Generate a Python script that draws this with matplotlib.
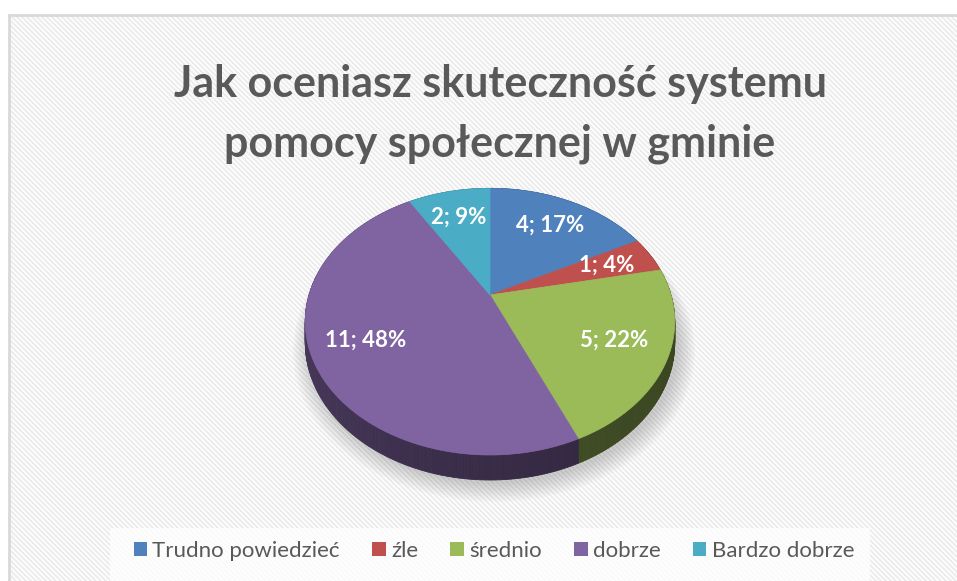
import numpy as np
import matplotlib.pyplot as plt
from matplotlib.patches import Polygon, Rectangle, Patch

# Odpowiedzi ankiety
labels = ['Trudno powiedzieć', 'źle', 'średnio', 'dobrze', 'Bardzo dobrze']
counts = [4, 1, 5, 11, 2]
colors = ['#4F81BD', '#C0504D', '#9BBB59', '#8064A2', '#4BACC6']
title = 'Jak oceniasz skuteczność systemu\npomocy społecznej w gminie'

plt.rcParams['font.family'] = ['Lato', 'DejaVu Sans']

fig = plt.figure(figsize=(9.57, 5.81), dpi=100)
ax = fig.add_axes([0, 0, 1, 1])
ax.set_xlim(0, 957)
ax.set_ylim(581, 0)
ax.axis('off')

# tło w ukośne paski + ramka
for c in np.arange(-600, 960, 5):
    ax.plot([c, c + 600], [0, 600], color='#ECECEC', lw=1.4, zorder=0)
ax.add_patch(Rectangle((0, 0), 957, 14, color='white', zorder=0.5))
ax.add_patch(Rectangle((0, 0), 8, 581, color='white', zorder=0.5))
ax.plot([9, 957], [15, 15], color='#D9D9D9', lw=2, zorder=0.6)
ax.plot([9, 9], [15, 581], color='#D9D9D9', lw=2, zorder=0.6)

# parametry rzutu 3D
cx, cy = 490, 295
rx, ry = 181, 128
persp = 0.2
depth = 20


def project(theta, r=1.0, z=0.0):
    u = r * np.sin(theta)
    v = -r * np.cos(theta)
    s = 1.0 / (1.0 - persp * v)
    return cx + rx * u * s, cy + ry * v * s + z * s


def shade(hex_color, f):
    rgb = np.array([int(hex_color[i:i + 2], 16) for i in (1, 3, 5)]) / 255.0
    return tuple(np.clip(rgb * f, 0, 1))


total = sum(counts)
bounds = np.concatenate([[0], np.cumsum(counts)]) / total * 2 * np.pi

# cień pod wykresem
t_all = np.linspace(0, 2 * np.pi, 360)
for k in range(8):
    grow = 1 + 0.012 * k
    xs, ys = project(t_all, r=grow, z=depth)
    ax.add_patch(Polygon(np.column_stack([xs + 4, ys + 4]), closed=True,
                         color='black', alpha=0.025, lw=0, zorder=1))

# boki
for i, col in enumerate(colors):
    ts = np.linspace(bounds[i], bounds[i + 1], max(3, int(counts[i] * 20)))
    for a, b in zip(ts[:-1], ts[1:]):
        x1, y1 = project(np.array([a, b]))
        x2, y2 = project(np.array([b, a]), z=depth)
        f = 0.48 - 0.09 * np.sin((a + b) / 2) + 0.04 * np.cos((a + b) / 2)
        ax.add_patch(Polygon(np.column_stack([np.r_[x1, x2], np.r_[y1, y2]]),
                             closed=True, color=shade(col, f), lw=0.6, zorder=2))

# górna powierzchnia
for i, col in enumerate(colors):
    ts = np.linspace(bounds[i], bounds[i + 1], max(3, int(counts[i] * 30)))
    xs, ys = project(ts)
    pts = np.column_stack([np.r_[cx, xs], np.r_[cy, ys]])
    ax.add_patch(Polygon(pts, closed=True, color=col, lw=0.5, zorder=3))

# etykiety danych
for i, c in enumerate(counts):
    mid = (bounds[i] + bounds[i + 1]) / 2
    lx, ly = project(mid, r=0.72)
    ax.text(lx, ly, f'{c}; {round(100 * c / total)}%', ha='center', va='center',
            color='white', fontsize=16, fontweight='bold', zorder=4)

ax.text(500, 97, 'Jak oceniasz skuteczność systemu', ha='center', va='baseline',
        fontsize=31, fontweight='bold', color='#595959', zorder=4)
ax.text(500, 157, 'pomocy społecznej w gminie', ha='center', va='baseline',
        fontsize=31, fontweight='bold', color='#595959', zorder=4)

# legenda
ax.add_patch(Rectangle((110, 528), 760, 60, color='white', alpha=0.75, lw=0, zorder=1))
handles = [Patch(facecolor=c, edgecolor='none') for c in colors]
ax.legend(handles, labels, ncol=5, loc='center', bbox_to_anchor=(494, 551),
          bbox_transform=ax.transData, frameon=False, fontsize=16,
          handlelength=0.6, handleheight=0.6, handletextpad=0.25,
          columnspacing=1.45, labelcolor='#595959')

fig.savefig('out.png', dpi=100)
